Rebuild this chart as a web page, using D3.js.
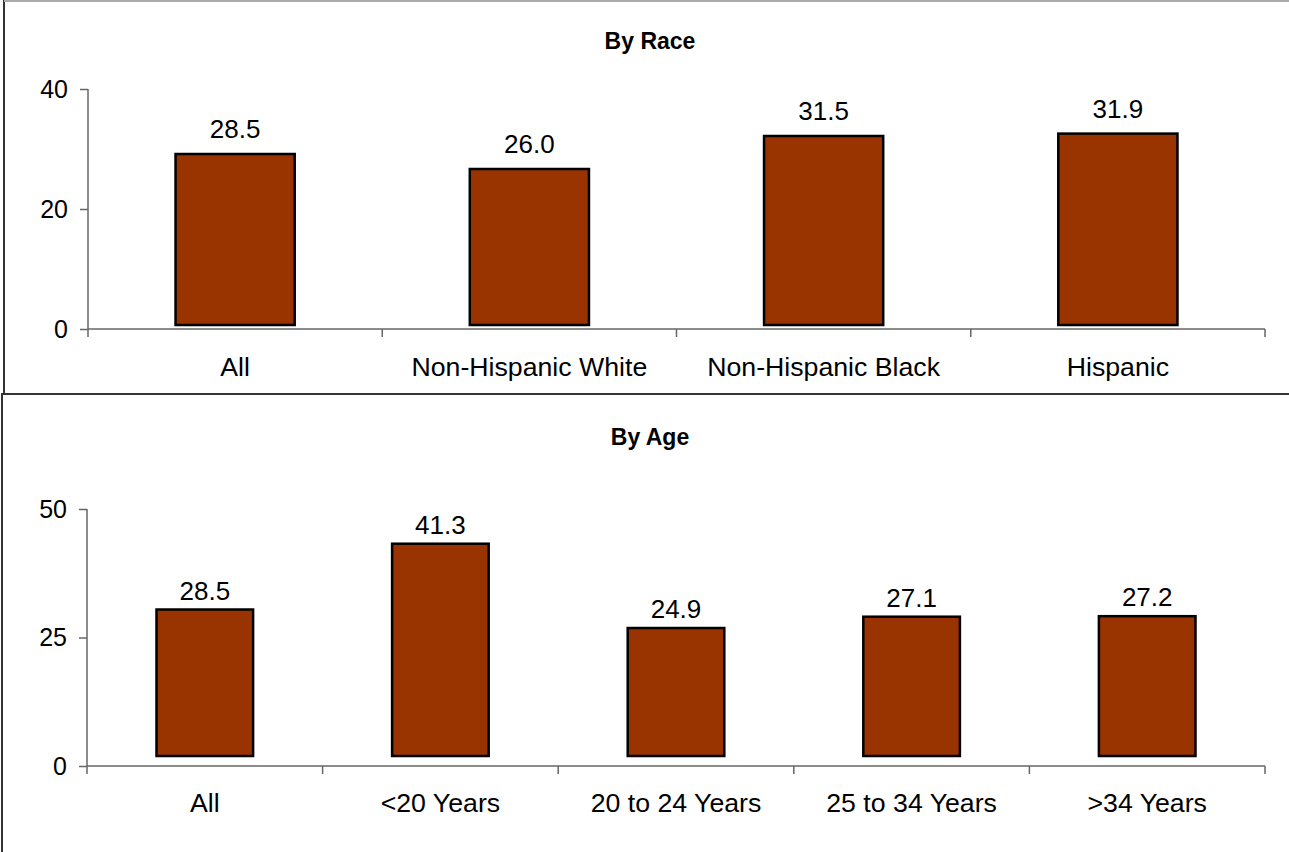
<!DOCTYPE html>
<html>
<head>
<meta charset="utf-8">
<script src="https://cdn.jsdelivr.net/npm/d3@7"></script>
<style>
  html, body { margin: 0; padding: 0; background: #fff; }
  svg { display: block; }
  text { font-family: Arial, "Liberation Sans", sans-serif; fill: #000; }
</style>
</head>
<body>
<svg id="chart" width="1289" height="852"></svg>
<script>
const raceCategories = ["All", "Non-Hispanic White", "Non-Hispanic Black", "Hispanic"];
const raceValues = [28.5, 26.0, 31.5, 31.9];
const raceTicks = [0, 20, 40];

const ageCategories = ["All", "<20 Years", "20 to 24 Years", "25 to 34 Years", ">34 Years"];
const ageValues = [28.5, 41.3, 24.9, 27.1, 27.2];
const ageTicks = [0, 25, 50];

const svg = d3.select("#chart");

// panel frames
svg.append("rect").attr("x", 4).attr("y", 1).attr("width", 1300).attr("height", 393)
  .attr("fill", "none").attr("stroke", "#333").attr("stroke-width", 2);
svg.append("line").attr("x1", 4).attr("x2", 1300).attr("y1", 1).attr("y2", 1)
  .attr("stroke", "#aaa").attr("stroke-width", 2);
svg.append("rect").attr("x", 2).attr("y", 394).attr("width", 1300).attr("height", 470)
  .attr("fill", "none").attr("stroke", "#333").attr("stroke-width", 2);

function panel(cfg) {
  const g = svg.append("g");
  const x = d3.scaleBand().domain(cfg.cats).range([cfg.x0, cfg.x1]).paddingInner(0).paddingOuter(0);
  const y = d3.scaleLinear().domain([0, cfg.max]).range([cfg.yBase, cfg.yTop]);

  g.append("text").attr("x", cfg.titleX).attr("y", cfg.titleY)
    .attr("text-anchor", "middle").style("font-size", "23px").style("font-weight", "bold")
    .text(cfg.title);

  // y axis
  const ya = g.append("g").attr("transform", `translate(${cfg.x0},0)`)
    .call(d3.axisLeft(y).tickValues(cfg.ticks).tickSize(8).tickSizeOuter(0).tickPadding(12).tickFormat(d3.format("d")));
  ya.select(".domain").attr("stroke", "#666").attr("stroke-width", 1.5).attr("d", `M0,${cfg.yTop}V${cfg.yBase + 8}`);
  ya.selectAll(".tick line").attr("stroke", "#666").attr("stroke-width", 1.5);
  ya.selectAll(".tick text").style("font-size", "25px").attr("font-family", null);

  // x axis
  const xa = g.append("g").attr("transform", `translate(0,${cfg.yBase})`);
  xa.append("line").attr("x1", cfg.x0).attr("x2", cfg.x1).attr("stroke", "#666").attr("stroke-width", 1.5);
  const bounds = cfg.cats.map(c => x(c)).concat([cfg.x1]).slice(1);
  xa.selectAll("line.tk").data(bounds).join("line").attr("class", "tk")
    .attr("x1", d => d).attr("x2", d => d).attr("y1", 0).attr("y2", 8)
    .attr("stroke", "#666").attr("stroke-width", 1.5);
  xa.selectAll("text").data(cfg.cats).join("text")
    .attr("x", d => x(d) + x.bandwidth() / 2).attr("y", cfg.labelDy)
    .attr("text-anchor", "middle").style("font-size", "26.7px").text(d => d);

  const bw = x.bandwidth() * cfg.barFrac;
  const data = cfg.cats.map((c, i) => ({ c, v: cfg.vals[i] }));
  g.selectAll("rect.bar").data(data).join("rect").attr("class", "bar")
    .attr("x", d => x(d.c) + (x.bandwidth() - bw) / 2)
    .attr("width", bw)
    .attr("y", d => y(d.v) - cfg.offset)
    .attr("height", d => y(0) - y(d.v))
    .attr("fill", "#993300").attr("stroke", "#000").attr("stroke-width", 2.5);

  g.selectAll("text.val").data(data).join("text").attr("class", "val")
    .attr("x", d => x(d.c) + x.bandwidth() / 2)
    .attr("y", d => y(d.v) - 20)
    .attr("text-anchor", "middle").style("font-size", "26px")
    .text(d => d3.format(".1f")(d.v));
}

panel({
  title: "By Race", titleX: 650, titleY: 49,
  cats: raceCategories, vals: raceValues, ticks: raceTicks, max: 40,
  x0: 88, x1: 1265, yBase: 329, yTop: 89, offset: 4, barFrac: 0.405, labelDy: 47
});
panel({
  title: "By Age", titleX: 650, titleY: 445,
  cats: ageCategories, vals: ageValues, ticks: ageTicks, max: 50,
  x0: 87, x1: 1265, yBase: 766, yTop: 509, offset: 10, barFrac: 0.41, labelDy: 46
});
</script>
</body>
</html>
